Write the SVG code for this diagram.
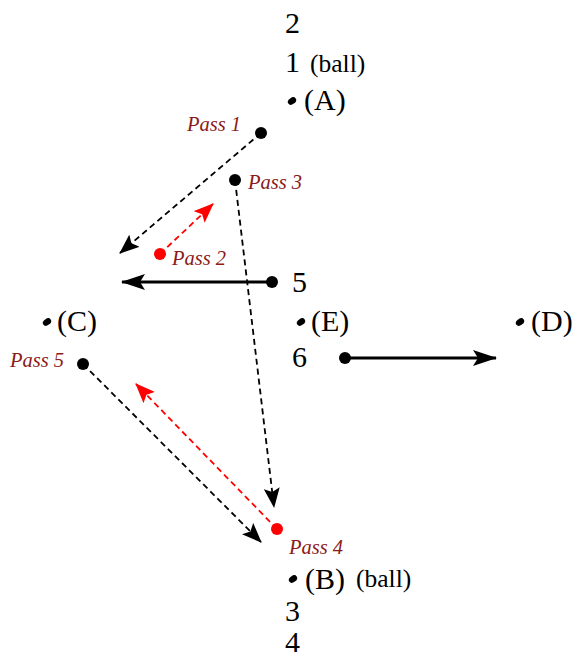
<svg xmlns="http://www.w3.org/2000/svg" width="577" height="658" viewBox="0 0 577 658">
<style>
text{font-family:'Liberation Serif','Times New Roman',serif}
.big{font-size:30px;fill:#000}
.sm{font-size:25.5px;fill:#000}
.p{font-style:italic;font-size:20.5px;fill:#8B1A1A}
.dk{stroke:#000;stroke-width:1.8;stroke-dasharray:6,4;fill:none}
.dr{stroke:#f00;stroke-width:1.8;stroke-dasharray:6,4;fill:none}
.sl{stroke:#000;stroke-width:3;fill:none}
</style>
<defs>
<marker id="ak" viewBox="0 0 20 16" refX="19" refY="8" markerWidth="20" markerHeight="16" markerUnits="userSpaceOnUse" orient="auto"><path d="M0,0 L20,8 L0,16 L4,8 Z" fill="#000"/></marker>
<marker id="ar" viewBox="0 0 20 16" refX="19" refY="8" markerWidth="20" markerHeight="16" markerUnits="userSpaceOnUse" orient="auto"><path d="M0,0 L20,8 L0,16 L4,8 Z" fill="#f00"/></marker>
<marker id="as" viewBox="0 0 24 16" refX="23" refY="8" markerWidth="24" markerHeight="16" markerUnits="userSpaceOnUse" orient="auto"><path d="M0,0 L24,8 L0,16 L5,8 Z" fill="#000"/></marker>
</defs>
<g id="connectors">
<line class="dk" x1="261" y1="133" x2="120" y2="253" marker-end="url(#ak)"/>
<line class="dr" x1="160" y1="254" x2="213" y2="204" marker-end="url(#ar)"/>
<line class="dk" x1="235" y1="180" x2="274" y2="507" marker-end="url(#ak)"/>
<line class="sl" x1="272" y1="282" x2="122" y2="282" marker-end="url(#as)"/>
<line class="sl" x1="345" y1="358" x2="496" y2="358" marker-end="url(#as)"/>
<line class="dk" x1="83" y1="364" x2="261" y2="542" marker-end="url(#ak)"/>
<line class="dr" x1="277" y1="529" x2="136" y2="384" marker-end="url(#ar)"/>
</g>
<g id="A">
<text class="big" x="285" y="33">2</text>
<text class="big" x="285" y="72">1</text>
<text class="sm" x="310" y="72">(ball)</text>
<ellipse cx="292" cy="101" rx="4.5" ry="3.2" transform="rotate(-35 292 101)" fill="#000"/>
<text class="big" x="304" y="110">(A)</text>
</g>
<g id="pass1"><circle cx="261" cy="133" r="6" fill="#000"/><text class="p" x="187" y="131">Pass 1</text></g>
<g id="pass3"><circle cx="235" cy="180" r="6" fill="#000"/><text class="p" x="248" y="189">Pass 3</text></g>
<g id="pass2"><circle cx="160" cy="254" r="6" fill="#f00"/><text class="p" x="172" y="265">Pass 2</text></g>
<g id="n5"><circle cx="272" cy="282" r="6" fill="#000"/><text class="big" x="292" y="292">5</text></g>
<g id="C"><ellipse cx="47" cy="322" rx="4.5" ry="3.2" transform="rotate(-35 47 322)" fill="#000"/><text class="big" x="57" y="331">(C)</text></g>
<g id="E"><ellipse cx="301" cy="322" rx="4.5" ry="3.2" transform="rotate(-35 301 322)" fill="#000"/><text class="big" x="311" y="331">(E)</text></g>
<g id="D"><ellipse cx="520" cy="322" rx="4.5" ry="3.2" transform="rotate(-35 520 322)" fill="#000"/><text class="big" x="531" y="331">(D)</text></g>
<g id="n6"><circle cx="345" cy="358" r="6" fill="#000"/><text class="big" x="292" y="367">6</text></g>
<g id="pass5"><circle cx="83" cy="364" r="6" fill="#000"/><text class="p" x="10" y="367">Pass 5</text></g>
<g id="pass4"><circle cx="277" cy="529" r="6" fill="#f00"/><text class="p" x="289" y="554">Pass 4</text></g>
<g id="B">
<ellipse cx="293" cy="579" rx="4.5" ry="3.2" transform="rotate(-35 293 579)" fill="#000"/>
<text class="big" x="305" y="589">(B)</text>
<text class="sm" x="356" y="587">(ball)</text>
<text class="big" x="285" y="621">3</text>
<text class="big" x="285" y="652">4</text>
</g>
</svg>
